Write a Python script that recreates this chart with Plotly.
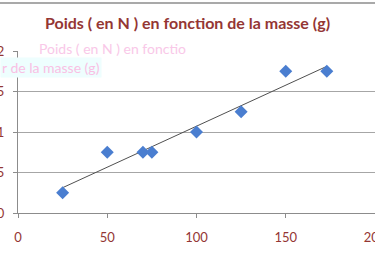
import numpy as np
import plotly.graph_objects as go

# Data (mass in g, weight in N)
masse = [25, 50, 70, 75, 100, 125, 150, 173]
poids = [0.25, 0.75, 0.75, 0.75, 1.0, 1.25, 1.75, 1.75]
x_ticks = [0, 50, 100, 150, 200]
y_ticks = [0, 0.5, 1, 1.5, 2]
titre = "Poids ( en N ) en fonction de la masse (g)"

RED = "#943634"
BLUE = "#4a7ed0"

slope, intercept = np.polyfit(masse, poids, 1)
tx = [min(masse), max(masse)]
ty = [slope * v + intercept for v in tx]

fig = go.Figure()
fig.add_trace(go.Scatter(x=tx, y=ty, mode="lines",
                         line=dict(color="#505050", width=1), hoverinfo="skip"))
fig.add_trace(go.Scatter(x=masse, y=poids, mode="markers",
                         marker=dict(symbol="diamond", size=10, color=BLUE)))

fig.update_layout(
    width=375, height=257,
    margin=dict(l=18, r=0, t=51, b=44, autoexpand=False),
    paper_bgcolor="white", plot_bgcolor="white",
    showlegend=False,
    separators=", ",
    title=dict(text="<b>" + titre + "</b>", x=0.5, xanchor="center",
               y=1 - 23 / 257, yanchor="middle",
               font=dict(family="Lato", size=16, color=RED)),
    font=dict(family="Lato", size=13, color=RED),
)
fig.update_xaxes(range=[0, 200], tickvals=x_ticks, showgrid=False,
                 showline=True, linecolor="#8c8c8c", linewidth=1,
                 ticks="outside", ticklen=4, tickcolor="#8c8c8c",
                 ticklabelstandoff=8, automargin=False,
                 ticklabeloverflow="allow",
                 zeroline=False, tickfont=dict(color=RED, size=13))
fig.update_yaxes(range=[0, 2], tickvals=y_ticks, showgrid=True,
                 gridcolor="#a6a6a6", gridwidth=1,
                 showline=True, linecolor="#8c8c8c", linewidth=1,
                 ticks="outside", ticklen=4, tickcolor="#8c8c8c",
                 ticklabelstandoff=6, automargin=False,
                 ticklabeloverflow="allow",
                 zeroline=False, tickfont=dict(color=RED, size=13))

# outer chart border (top line visible in the crop)
fig.add_shape(type="line", xref="paper", yref="paper",
              x0=-18 / 357, x1=1, y0=1 + 48 / 162, y1=1 + 48 / 162,
              line=dict(color="#8c8c8c", width=1.5))

# faint ghost text visible in the reference
fig.add_annotation(xref="paper", yref="paper", x=(112 - 18) / 357, xanchor="center",
                   y=1 + (213 - 38 - 162) / 162, text="Poids ( en N ) en fonctio",
                   showarrow=False, font=dict(family="Lato", size=14, color="#f9c8e8"))
fig.add_annotation(xref="paper", yref="paper", x=(0 - 18) / 357, xanchor="left",
                   y=1 + (213 - 57 - 162) / 162, text="r de la masse (g)",
                   showarrow=False, bgcolor="#eefefe",
                   font=dict(family="Lato", size=14, color="#f9c0e4"))

fig.write_html("out.html")
